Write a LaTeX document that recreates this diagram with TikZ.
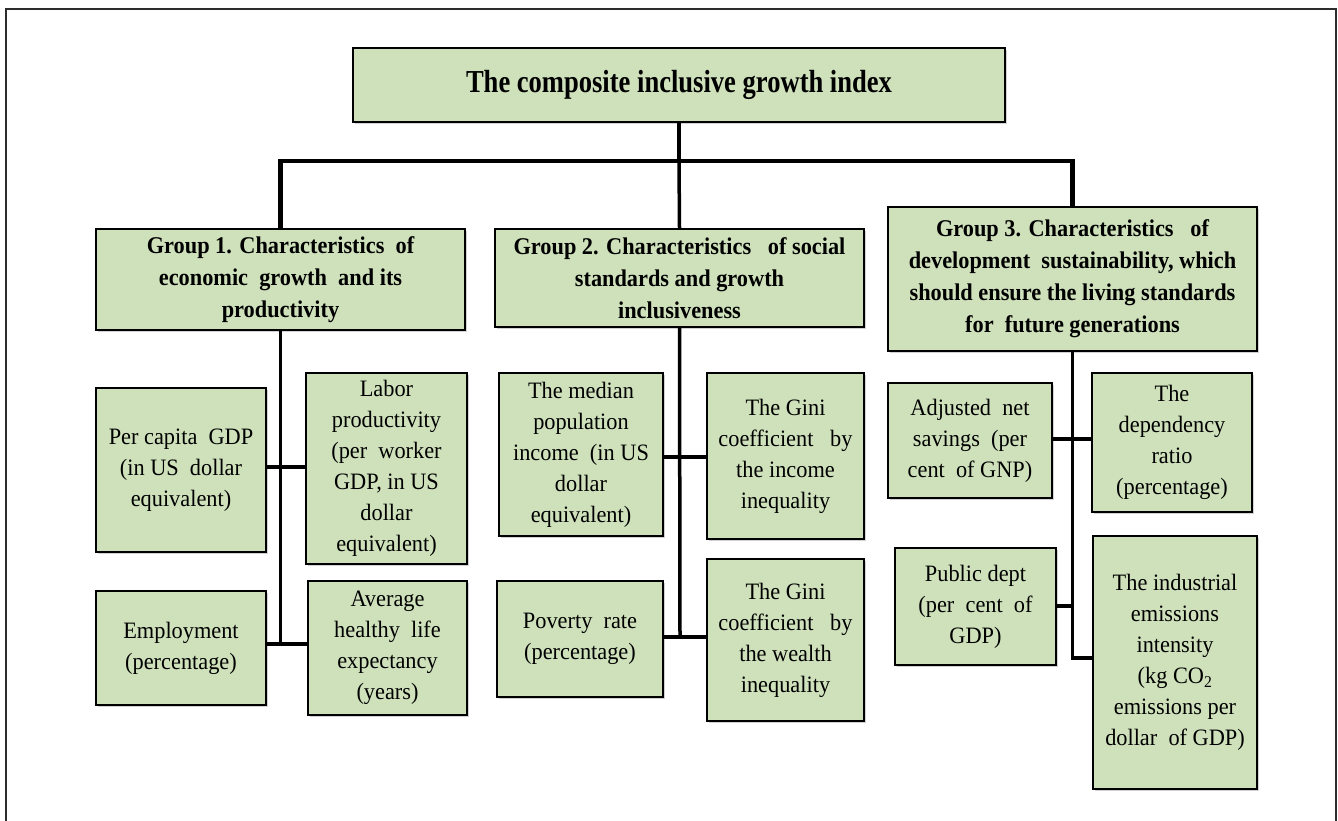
\documentclass[tikz,border=0pt]{standalone}
\usepackage{fontspec}
\setmainfont{Liberation Serif}
\newfontfamily\titlefam[FakeStretch=0.83]{Liberation Serif}
\newfontfamily\groupfam[FakeStretch=0.93]{Liberation Serif}
\newfontfamily\itemfam[FakeStretch=0.95]{Liberation Serif}
\usetikzlibrary{shadows}
\definecolor{boxgreen}{RGB}{207,225,187}
\definecolor{framegray}{RGB}{45,45,45}
\tikzset{
  basebox/.style={draw=black, line width=1.6pt, fill=boxgreen, align=center, inner sep=2pt,
    drop shadow={shadow xshift=1.5pt, shadow yshift=-1.5pt, opacity=0.35}},
  titlebox/.style={basebox, font=\titlefam\bfseries\fontsize{32}{36}\selectfont},
  groupbox/.style={basebox, font=\groupfam\bfseries\fontsize{24}{32}\selectfont},
  itembox/.style={basebox, font=\itemfam\fontsize{23.5}{31}\selectfont},
  conn/.style={line width=3.5pt, black},
  busline/.style={line width=4.5pt, black},
  outerframe/.style={draw=framegray, line width=2.5pt}
}
\begin{document}
\begin{tikzpicture}[x=1pt,y=-1pt]
\useasboundingbox (0,0) rectangle (1338,820);
\fill[white] (0,0) rectangle (1338,820);
\draw[outerframe] (6,830) -- (6,9) -- (1336,9) -- (1336,830);

% top and groups
\node[titlebox, minimum width=652pt, minimum height=74pt] (title) at (679,85) {The composite inclusive growth index};
\node[groupbox, minimum width=369pt, minimum height=101pt] (g1) at (280.5,279.5)
  {Group 1. Characteristics\ \ of\\ economic\ \ growth\ \ and its\\ productivity};
\node[groupbox, minimum width=369pt, minimum height=98pt] (g2) at (679.5,278)
  {Group 2. Characteristics\ \ \ of social\\ standards and growth\\ inclusiveness};
\node[groupbox, minimum width=369pt, minimum height=144pt] (g3) at (1072.5,279)
  {Group 3. Characteristics\ \ \ of\\ development\ \ sustainability, which\\ should ensure the living standards\\ for\ \ future generations};

% group 1 items
\node[itembox, minimum width=170pt, minimum height=164pt] (percap) at (181,470)
  {Per capita\ \ GDP\\ (in US\ \ dollar\\ equivalent)};
\node[itembox, minimum width=161pt, minimum height=191pt] (labor) at (386.5,468.5)
  {Labor\\ productivity\\ (per\ \ worker\\ GDP, in US\\ dollar\\ equivalent)};
\node[itembox, minimum width=170pt, minimum height=114pt] (employ) at (181,648)
  {Employment\\ (percentage)};
\node[itembox, minimum width=159pt, minimum height=134pt] (avg) at (387.5,648)
  {Average\\ healthy\ \ life\\ expectancy\\ (years)};

% group 2 items
\node[itembox, minimum width=164pt, minimum height=163pt] (median) at (581,454.5)
  {The median\\ population\\ income\ \ (in US\\ dollar\\ equivalent)};
\node[itembox, minimum width=157pt, minimum height=166pt] (giniinc) at (785.5,456)
  {The Gini\\ coefficient\ \ \ by\\ the income\\ inequality};
\node[itembox, minimum width=166pt, minimum height=116pt] (poverty) at (580,639)
  {Poverty\ \ rate\\ (percentage)};
\node[itembox, minimum width=157pt, minimum height=162pt] (giniwealth) at (785.5,640)
  {The Gini\\ coefficient\ \ \ by\\ the wealth\\ inequality};

% group 3 items
\node[itembox, minimum width=164pt, minimum height=115pt] (adjusted) at (970,440.5)
  {Adjusted\ \ net\\ savings\ \ (per\\ cent\ \ of GNP)};
\node[itembox, minimum width=160pt, minimum height=139pt] (depend) at (1172,442.5)
  {The\\ dependency\\ ratio\\ (percentage)};
\node[itembox, minimum width=161pt, minimum height=117pt] (public) at (975.5,606.5)
  {Public\ dept\\ (per\ \ cent\ \ of\\ GDP)};
\node[itembox, minimum width=164pt, minimum height=253pt] (industrial) at (1175,662.5)
  {The industrial\\ emissions\\ intensity\\ (kg CO\textsubscript{2}\\ emissions per\\ dollar\ \ of GDP)};

% junction coordinates
\coordinate (bus) at (679,161);
\coordinate (j1a) at (280.5,467);
\coordinate (j1b) at (280.5,644);
\coordinate (j2a) at (680,457);
\coordinate (j2b) at (680,637);
\coordinate (j3a) at (1072.5,439);
\coordinate (j3b) at (1072.5,606);
\coordinate (j3c) at (1072.5,658);

% top connectors
\draw[conn] (title.south) -- (bus);
\draw[busline] (g1.north) |- (bus) -| (g3.north);
\draw[conn] (bus) -- (g2.north);

% group 1 connectors
\draw[conn] (g1.south) -- (j1b);
\draw[conn] (percap.east |- j1a) -- (labor.west |- j1a);
\draw[conn] (employ.east |- j1b) -- (avg.west |- j1b);

% group 2 connectors
\draw[conn] (g2.south) -- (j2b);
\draw[conn] (median.east |- j2a) -- (giniinc.west |- j2a);
\draw[conn] (poverty.east |- j2b) -- (giniwealth.west |- j2b);

% group 3 connectors
\draw[conn] (g3.south) |- (industrial.west |- j3c);
\draw[conn] (adjusted.east |- j3a) -- (depend.west |- j3a);
\draw[conn] (public.east |- j3b) -- (j3b);
\end{tikzpicture}
\end{document}
